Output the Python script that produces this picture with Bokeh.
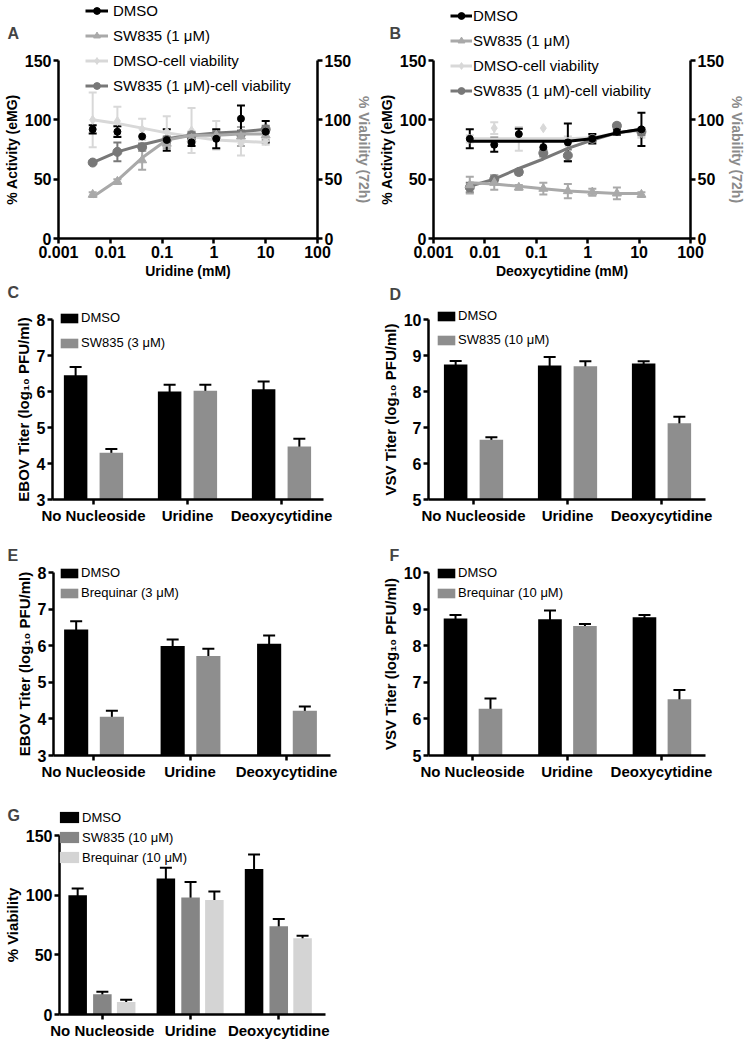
from bokeh.plotting import figure
from bokeh.models import (Range1d, LinearAxis, FixedTicker, Legend, LegendItem, GridBox,
                          Whisker, TeeHead, ColumnDataSource, Label, CustomJSTickFormatter)
from bokeh.layouts import column, row
from bokeh.embed import file_html
from bokeh.resources import INLINE

FONT = "Liberation Sans"
NAN = float("nan")

# ---------------- Data: panels A and B (dose response) ----------------
dose_A = [0.00457, 0.0137, 0.0412, 0.123, 0.370, 1.11, 3.33, 10.0]
A_dmso = [92, 90, 86, 83, 81, 84, 101, 90]
A_dmso_err = [3.5, 4.5, 0, 9, 3, 8, 11, 9]
A_sw = [37, 48, 66, 80, 84, 87, 86, 87]
A_sw_err = [2, 2, 8, 4, 4, 4, 8, 4]
A_sw_fit = [35, 49, 68, 83, 87, 87, 88, 88]
A_dv = [100, 99, 92, 90, 91, 87, 80, 82]
A_dv_err = [23, 12, 9, 13, 19, 12, 10, 3]
A_dv_fit = [100, 97, 93, 89, 86, 83, 82, 81]
A_sv = [64, 73, 77, 83, 87, 87, 88, 92]
A_sv_err = [1, 8, 3, 3, 3, 3, 3, 3]
A_sv_fit = [64, 73, 79, 84, 87, 89, 90, 92]

dose_B = [0.00508, 0.0152, 0.0457, 0.137, 0.411, 1.23, 3.70, 11.1]
B_dmso = [84, 79, 88, 77, 81, 84, 90, 92]
B_dmso_err = [8, 6, 4.5, 5.5, 16, 4, 2.5, 14]
B_dmso_fit = [82, 82, 82, 82, 82, 84, 89, 92]
B_sw = [45, 47, 43, 42, 40, 39, 38, 37]
B_sw_err = [7, 6, 2, 5, 6, 3, 5, 2]
B_sw_fit = [47, 46, 44, 42, 40, 39, 38, 38]
B_dv = [84, 93, 84, 93, 78, 84, 93, 89]
B_dv_err = [3, 5, 10, 0, 8, 3, 3, 4]
B_dv_fit = [84, 84, 84, 84, 84, 85, 89, 91]
B_sv = [43, 50, 56, 72, 70, 84, 95, 90]
B_sv_err = [4, 3, 2, 3, 5, 2, 2, 3]
B_sv_fit = [44, 50, 59, 67, 76, 83, 89, 92]

series_names = ["DMSO", "SW835 (1 \u03bcM)", "DMSO-cell viability",
                "SW835 (1 \u03bcM)-cell viability"]

# ---------------- Data: bar panels ----------------
categories = ["No Nucleoside", "Uridine", "Deoxycytidine"]

C_dmso = [6.45, 6.00, 6.06]
C_dmso_up = [0.23, 0.19, 0.22]
C_sw = [4.30, 6.02, 4.47]
C_sw_up = [0.10, 0.17, 0.22]
C_sw_dn = [0.11, 0.23, 0.36]

D_dmso = [8.75, 8.72, 8.78]
D_dmso_up = [0.10, 0.24, 0.06]
D_sw = [6.66, 8.70, 7.12]
D_sw_up = [0.07, 0.14, 0.18]
D_sw_dn = [0.06, 0.16, 0.30]

E_dmso = [6.44, 5.99, 6.05]
E_dmso_up = [0.23, 0.18, 0.23]
E_bq = [4.06, 5.72, 4.22]
E_bq_up = [0.16, 0.20, 0.12]
E_bq_dn = [0.23, 0.40, 0.13]

F_dmso = [8.74, 8.72, 8.78]
F_dmso_up = [0.10, 0.24, 0.06]
F_bq = [6.28, 8.54, 6.54]
F_bq_up = [0.28, 0.05, 0.25]
F_bq_dn = [0.94, 0.05, 0.66]

G_dmso = [100, 114, 122]
G_dmso_err = [5.5, 9, 12]
G_sw = [17, 98, 74]
G_sw_err = [2, 13, 6]
G_bq = [10.5, 96, 64]
G_bq_err = [1.8, 7, 2]

BLACK = "#000000"
MID = "#a9a9a9"
LIGHT = "#d8d8d8"
DARK = "#787878"
BARGRAY = "#8e8e8e"
G_SW = "#858585"
G_BQ = "#d4d4d4"

PAGE_W, PAGE_H = 748, 1041


def base_fig(width, height, bl, br, bt, bb, xr, yr, xtype="linear"):
    p = figure(width=width, height=height, x_range=xr, y_range=yr, x_axis_type=xtype,
               output_backend="svg", toolbar_location=None,
               min_border_left=bl, min_border_right=br,
               min_border_top=bt, min_border_bottom=bb)
    p.outline_line_color = None
    p.xgrid.visible = False
    p.ygrid.visible = False
    p.background_fill_color = "white"
    p.border_fill_color = "white"
    return p


def style_axis(ax, tick_size="16px", label_size="15px", label_color="black"):
    ax.axis_line_width = 2.5
    ax.axis_line_color = "black"
    ax.major_tick_line_width = 2.5
    ax.major_tick_line_color = "black"
    ax.major_tick_out = 5
    ax.major_tick_in = 0
    ax.minor_tick_line_color = None
    ax.major_label_text_font = FONT
    ax.major_label_text_font_style = "bold"
    ax.major_label_text_font_size = tick_size
    ax.major_label_text_color = "black"
    ax.major_label_standoff = 2
    ax.axis_label_text_font = FONT
    ax.axis_label_text_font_style = "bold"
    ax.axis_label_text_font_size = label_size
    ax.axis_label_text_color = label_color
    ax.axis_label_standoff = 2


def add_errs(p, x, y, lo_err, hi_err, color, size, lw=2, y_range_name=None):
    xs, lo, hi = [], [], []
    for xi, yi, el, eh in zip(x, y, lo_err, hi_err):
        if el > 0 or eh > 0:
            xs.append(xi)
            lo.append(yi - el)
            hi.append(yi + eh)
    src = ColumnDataSource(dict(x=xs, lower=lo, upper=hi))
    w = Whisker(source=src, base="x", lower="lower", upper="upper",
                line_color=color, line_width=lw,
                upper_head=TeeHead(size=size, line_color=color, line_width=lw),
                lower_head=TeeHead(size=size, line_color=color, line_width=lw))
    if y_range_name:
        w.y_range_name = y_range_name
    p.add_layout(w)


DOSE_STYLES = [(BLACK, "circle", 7, None), (MID, "triangle", 9, None),
               (LIGHT, "diamond", 9, "viab"), (DARK, "circle", 9, "viab")]


def dose_panel(dose, data, xlabel, width, bl, br):
    p = base_fig(width, 283, bl, br, 60, 45, Range1d(0.001, 100), Range1d(0, 150), "log")
    p.extra_y_ranges = {"viab": Range1d(0, 150)}
    right = LinearAxis(y_range_name="viab")
    p.add_layout(right, "right")
    p.xaxis.ticker = FixedTicker(ticks=[0.001, 0.01, 0.1, 1, 10, 100])
    p.xaxis.formatter = CustomJSTickFormatter(code="return tick.toString();")
    p.xaxis[0].axis_label = xlabel
    left = p.yaxis[0]
    left.axis_label = "% Activity (eMG)"
    right.axis_label = "% Viability (72h)"
    for ax in (left, right):
        ax.ticker = FixedTicker(ticks=[0, 50, 100, 150])
    style_axis(left, tick_size="16px", label_size="14px")
    style_axis(right, tick_size="16px", label_size="14px", label_color="#8a8a8a")
    style_axis(p.xaxis[0], tick_size="16px", label_size="14px")

    for idx in [2, 3, 1, 0]:
        vals, errs, fit = data[idx]
        color, marker, msize, yr = DOSE_STYLES[idx]
        kw = {"y_range_name": yr} if yr else {}
        if fit is not None:
            p.line(x=dose, y=fit, line_color=color, line_width=3, **kw)
        add_errs(p, dose, vals, errs, errs, color, 8, lw=2, y_range_name=yr)
        p.scatter(x=dose, y=vals, marker=marker, size=msize, fill_color=color,
                  line_color=color, **kw)
    return p


def bar_panel(width, height, bl, br, bt, bb, xr, yr, yticks, ylabel, groups, offsets,
              bar_w, cap):
    p = base_fig(width, height, bl, br, bt, bb, Range1d(*xr), Range1d(*yr))
    p.xaxis.ticker = FixedTicker(ticks=list(range(len(categories))))
    p.xaxis.major_label_overrides = {i: c for i, c in enumerate(categories)}
    p.yaxis.ticker = FixedTicker(ticks=yticks)
    p.yaxis[0].axis_label = ylabel
    style_axis(p.xaxis[0], tick_size="15px")
    style_axis(p.yaxis[0], tick_size="16px", label_size="15px")
    for (name, vals, dn, up, color), off in zip(groups, offsets):
        xs = [i + off for i in range(len(categories))]
        p.vbar(x=xs, top=vals, bottom=yr[0], width=bar_w, fill_color=color, line_color=None)
        add_errs(p, xs, vals, dn, up, "black", cap, lw=2)
    return p


# ---------------- Panels A, B ----------------
data_A = [(A_dmso, A_dmso_err, None), (A_sw, A_sw_err, A_sw_fit),
          (A_dv, A_dv_err, A_dv_fit), (A_sv, A_sv_err, A_sv_fit)]
data_B = [(B_dmso, B_dmso_err, B_dmso_fit), (B_sw, B_sw_err, B_sw_fit),
          (B_dv, B_dv_err, B_dv_fit), (B_sv, B_sv_err, B_sv_fit)]
pA = dose_panel(dose_A, data_A, "Uridine (mM)", 375, 52, 57)
pB = dose_panel(dose_B, data_B, "Deoxycytidine (mM)", 373, 53, 54)

# ---------------- Panels C - F ----------------
C_groups = [("DMSO", C_dmso, C_dmso_up, C_dmso_up, BLACK),
            ("SW835 (3 \u03bcM)", C_sw, C_sw_dn, C_sw_up, BARGRAY)]
D_groups = [("DMSO", D_dmso, D_dmso_up, D_dmso_up, BLACK),
            ("SW835 (10 \u03bcM)", D_sw, D_sw_dn, D_sw_up, BARGRAY)]
E_groups = [("DMSO", E_dmso, E_dmso_up, E_dmso_up, BLACK),
            ("Brequinar (3 \u03bcM)", E_bq, E_bq_dn, E_bq_up, BARGRAY)]
F_groups = [("DMSO", F_dmso, F_dmso_up, F_dmso_up, BLACK),
            ("Brequinar (10 \u03bcM)", F_bq, F_bq_dn, F_bq_up, BARGRAY)]
G_groups = [("DMSO", G_dmso, G_dmso_err, G_dmso_err, BLACK),
            ("SW835 (10 \u03bcM)", G_sw, G_sw_err, G_sw_err, G_SW),
            ("Brequinar (10 \u03bcM)", G_bq, G_bq_err, G_bq_err, G_BQ)]

pC = bar_panel(375, 260, 52, 52, 36, 44, (-0.436, 2.447), (3, 8), [3, 4, 5, 6, 7, 8],
               "EBOV Titer (log\u2081\u2080 PFU/ml)", C_groups, [-0.19, 0.19], 0.25, 12)
pD = bar_panel(373, 260, 53, 43, 36, 44, (-0.479, 2.468), (5, 10), [5, 6, 7, 8, 9, 10],
               "VSV Titer (log\u2081\u2080 PFU/ml)", D_groups, [-0.19, 0.19], 0.25, 12)
pE = bar_panel(375, 247, 53, 45, 29, 35, (-0.415, 2.456), (3, 8), [3, 4, 5, 6, 7, 8],
               "EBOV Titer (log\u2081\u2080 PFU/ml)", E_groups, [-0.18, 0.19], 0.25, 12)
pF = bar_panel(373, 247, 53, 43, 29, 35, (-0.466, 2.466), (5, 10), [5, 6, 7, 8, 9, 10],
               "VSV Titer (log\u2081\u2080 PFU/ml)", F_groups, [-0.18, 0.19], 0.25, 12)
pG = bar_panel(375, 251, 52, 50, 45, 25, (-0.486, 2.53), (0, 150), [0, 50, 100, 150],
               "% Viability", G_groups, [-0.28, 0.0, 0.27], 0.21, 12)

main = column(row(pA, pB), row(pC, pD), row(pE, pF), pG)

# ---------------- Overlay: panel letters and legends ----------------
ov = figure(width=PAGE_W, height=PAGE_H, x_range=Range1d(0, PAGE_W),
            y_range=Range1d(PAGE_H, 0), output_backend="svg", toolbar_location=None,
            x_axis_location=None, y_axis_location=None,
            min_border_left=0, min_border_right=0, min_border_top=0, min_border_bottom=0)
ov.outline_line_color = None
ov.background_fill_color = None
ov.border_fill_color = None
ov.xgrid.visible = False
ov.ygrid.visible = False

letters = [("A", 7, 33), ("B", 389, 33), ("C", 7, 292), ("D", 389, 294),
           ("E", 7, 555), ("F", 389, 555), ("G", 7, 815)]
for t, lx, ly in letters:
    ov.add_layout(Label(x=lx, y=ly, text=t, text_font=FONT, text_font_style="bold",
                        text_font_size="16px", text_baseline="middle", text_align="left"))


def dose_legend(left, bottom, glyph_w, standoff):
    # legend-only renderers (a single NaN row so that their styles resolve)
    items = []
    for i, (color, marker, msize, yr) in enumerate(DOSE_STYLES):
        lr = ov.line(x=[NAN], y=[NAN], line_color=color, line_width=3)
        sr = ov.scatter(x=[NAN], y=[NAN], marker=marker, size=msize, fill_color=color,
                        line_color=color)
        items.append(LegendItem(label=series_names[i], renderers=[lr, sr]))
    leg = Legend(items=items, location=(left, PAGE_H - bottom), padding=0, margin=0,
                 border_line_color=None, background_fill_alpha=0,
                 label_text_font=FONT, label_text_font_size="15px",
                 label_text_color="black",
                 glyph_width=glyph_w, glyph_height=17, label_height=17,
                 label_standoff=standoff, spacing=8)
    ov.add_layout(leg)


def bar_legend(groups, left, bottom, spacing, glyph_w, glyph_h, label_h):
    items = []
    for name, vals, dn, up, color in groups:
        r = ov.vbar(x=[NAN], top=[NAN], width=1, fill_color=color, line_color=None)
        items.append(LegendItem(label=name, renderers=[r]))
    leg = Legend(items=items, location=(left, PAGE_H - bottom), padding=0, margin=0,
                 border_line_color=None, background_fill_alpha=0,
                 label_text_font=FONT, label_text_font_size="13px",
                 label_text_color="black",
                 glyph_width=glyph_w, glyph_height=glyph_h, label_height=label_h,
                 label_standoff=1, spacing=spacing)
    ov.add_layout(leg)


dose_legend(85, 94, 23, 5)
dose_legend(450, 98.5, 22, 1)
bar_legend(C_groups, 58, 350, 10, 22, 12, 14)
bar_legend(D_groups, 435, 347, 9, 22, 12, 14)
bar_legend(E_groups, 58, 600, 5, 22, 12, 14)
bar_legend(F_groups, 435, 600, 5, 22, 12, 14)
bar_legend(G_groups, 57, 864.5, 5, 24, 14, 15)

layout = GridBox(children=[(main, 0, 0), (ov, 0, 0)])
open("out.html", "w").write(file_html(layout, INLINE))
